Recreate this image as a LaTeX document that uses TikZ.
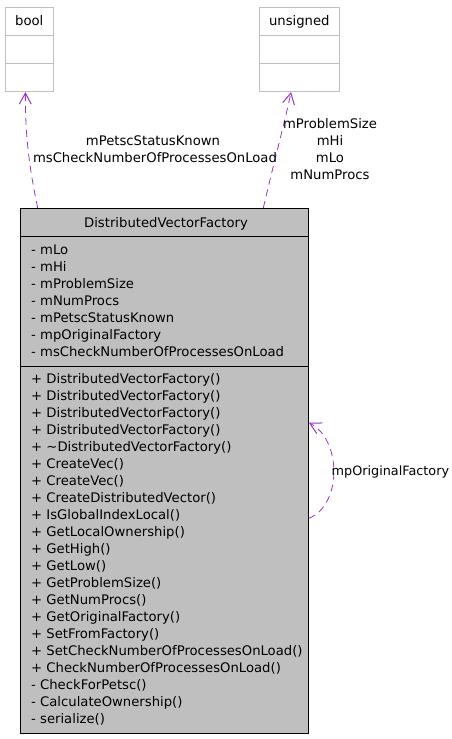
\documentclass[tikz,border=0pt]{standalone}
\usepackage{fontspec}
\setmainfont{DejaVu Sans}
\usetikzlibrary{arrows.meta}
\definecolor{umlpurple}{HTML}{9A32CD}
\definecolor{umlgrey}{HTML}{BFBFBF}
\begin{document}
\begin{tikzpicture}[x=1pt,y=-1pt,
  txt/.style={font=\fontsize{13.2}{15}\selectfont, inner sep=0pt, anchor=base west},
  ctxt/.style={font=\fontsize{13.2}{15}\selectfont, inner sep=0pt, anchor=base},
  typebox/.style={draw=umlgrey, fill=white, line width=0.8pt, minimum width=48pt, minimum height=84pt, inner sep=0pt, anchor=north west},
  classbox/.style={draw=black, fill=umlgrey, line width=0.9pt, minimum width=288pt, minimum height=525pt, inner sep=0pt, anchor=north west},
  dep/.style={draw=umlpurple, dash pattern=on 7pt off 5pt, line width=0.8pt, -{Straight Barb[length=11pt,width=12pt,line width=1pt]}}
  ]
\useasboundingbox (0,0) rectangle (452,739);
% type boxes
\node[typebox] (bool) at (5.3,7.3) {};
\draw[umlgrey, line width=0.8pt] (5.3,35.3) -- (53.3,35.3) (5.3,63.3) -- (53.3,63.3);
\node[ctxt] (booltxt) at (29.3,25.5) {bool};
\node[typebox, minimum width=80pt] (uns) at (259.3,7.3) {};
\draw[umlgrey, line width=0.8pt] (259.3,35.3) -- (339.3,35.3) (259.3,63.3) -- (339.3,63.3);
\node[ctxt] (unstxt) at (299.3,25.5) {unsigned};
% class box
\node[classbox] (main) at (20,208) {};
\draw[black, line width=0.9pt] (20,236) -- (308,236) (20,366) -- (308,366);
\node[ctxt] (title) at (166,227) {DistributedVectorFactory};
\foreach \t [count=\i from 0] in {{- mLo},{- mHi},{- mProblemSize},{- mNumProcs},{- mPetscStatusKnown},{- mpOriginalFactory},{- msCheckNumberOfProcessesOnLoad}}
  \node[txt] (attr\i) at (31,254.9+17*\i) {\t};
\foreach \t [count=\i from 0] in {{+ DistributedVectorFactory()},{+ DistributedVectorFactory()},{+ DistributedVectorFactory()},{+ DistributedVectorFactory()},{+ \textasciitilde DistributedVectorFactory()},{+ CreateVec()},{+ CreateVec()},{+ CreateDistributedVector()},{+ IsGlobalIndexLocal()},{+ GetLocalOwnership()},{+ GetHigh()},{+ GetLow()},{+ GetProblemSize()},{+ GetNumProcs()},{+ GetOriginalFactory()},{+ SetFromFactory()},{+ SetCheckNumberOfProcessesOnLoad()},{+ CheckNumberOfProcessesOnLoad()},{- CheckForPetsc()},{- CalculateOwnership()},{- serialize()}}
  \node[txt] (meth\i) at (31,383.1+17*\i) {\t};
% dependencies
\draw[dep] ([xshift=17.7pt]main.north west) .. controls (32,180) and (25,145) .. ([xshift=-4.3pt]bool.south);
\draw[dep] ([xshift=243.3pt]main.north west) .. controls (272,170) and (284,125) .. ([xshift=-8.6pt]uns.south);
\draw[dep] ([yshift=-310.3pt]main.north east) .. controls (342,505) and (342,440) .. ([yshift=-214.7pt]main.north east);
% labels
\node[ctxt] (l1) at (153,145.5) {mPetscStatusKnown};
\node[ctxt] (l2) at (155,162.1) {msCheckNumberOfProcessesOnLoad};
\node[ctxt] (r1) at (330,128.1) {mProblemSize};
\node[ctxt] (r2) at (330,145.5) {mHi};
\node[ctxt] (r3) at (330,162.5) {mLo};
\node[ctxt] (r4) at (330,179.5) {mNumProcs};
\node[txt, font=\fontsize{12.8}{15}\selectfont] (selfl) at (331.5,475.5) {mpOriginalFactory};
\end{tikzpicture}
\end{document}
